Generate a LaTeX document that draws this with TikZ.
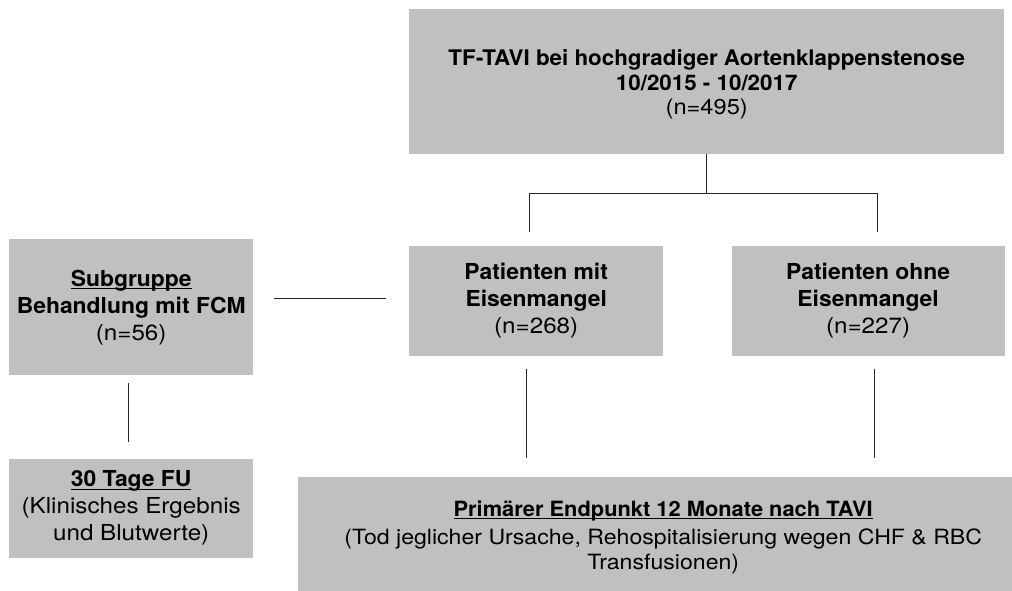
\documentclass[tikz,border=0pt]{standalone}
\usepackage{fontspec}
\setmainfont{TeX Gyre Heros}[FakeStretch=1.1, BoldFeatures={FakeStretch=1.04}]
\usepackage{xcolor}
\usetikzlibrary{positioning,calc}
\definecolor{boxgray}{RGB}{192,192,192}
\newcommand{\hd}[1]{\textbf{#1}}
\newsavebox{\ulinebox}
\newcommand{\ulin}[1]{\sbox{\ulinebox}{#1}\rlap{\usebox{\ulinebox}}\rule[-3pt]{\wd\ulinebox}{1.1pt}}

\begin{document}
\begin{tikzpicture}[
  x=1pt, y=1pt,
  font=\fontsize{22}{27}\selectfont,
  box/.style={fill=boxgray, draw=none, inner sep=0pt, align=center},
  link/.style={draw=black!85, line width=1pt}
]
\useasboundingbox (0,0) rectangle (1012,-590);
\clip (0,0) rectangle (1012,-590);

% ===== study cohort =====
\node[box, minimum width=595pt, minimum height=145pt, anchor=north west,
      font=\fontsize{21.5}{24.5}\selectfont] (tavi) at (409,-9)
  {\rule{0pt}{22pt}\hd{TF-TAVI bei hochgradiger Aortenklappenstenose}\\\hd{10/2015 - 10/2017}\\(n=495)};

% ===== groups =====
\node[box, minimum width=254pt, minimum height=110pt,
      below=91pt of tavi.south west, anchor=north west] (pmit)
  {\hd{Patienten mit}\\\hd{Eisenmangel}\\(n=268)};
\node[box, minimum width=273pt, minimum height=110pt,
      right=68pt of pmit.north east, anchor=north west] (pohne)
  {\hd{Patienten ohne}\\\hd{Eisenmangel}\\(n=227)};

\node[box, minimum width=244pt, minimum height=136pt, anchor=north west] (subgr) at (9,-239)
  {\hd{\ulin{Subgruppe}}\\\hd{Behandlung mit FCM}\\(n=56)};

% ===== follow-up =====
\node[box, minimum width=244pt, minimum height=99pt,
      below=83pt of subgr.south west, anchor=north west] (fu30)
  {\hd{\ulin{30 Tage FU}}\\(Klinisches Ergebnis\\und Blutwerte)};
\node[box, minimum width=730pt, minimum height=120pt, anchor=north west,
      font=\fontsize{21}{24.5}\selectfont] (endp) at (298,-477)
  {\hd{\ulin{Primärer Endpunkt 12 Monate nach TAVI}}\\[4pt](Tod jeglicher Ursache, Rehospitalisierung wegen CHF \& RBC\\Transfusionen)};

% connectors
\coordinate (split) at ([yshift=-39pt]tavi.south);
\draw[link] (tavi.south) -- (split);
\draw[link] ([xshift=-7pt,yshift=13pt]pmit.north) |- (split) -| ([xshift=9.5pt,yshift=13pt]pohne.north);
\draw[link, shorten <=21pt, shorten >=23pt] ([yshift=2pt]subgr.east |- pmit.west) -- ([yshift=2pt]pmit.west);
\draw[link, shorten <=8pt, shorten >=16pt] ([xshift=-3pt]subgr.south) -- ([xshift=-3pt]fu30.north);
\draw[link, shorten <=13pt, shorten >=19pt] ([xshift=-10pt]pmit.south) -- ([xshift=-10pt]pmit.south |- endp.north);
\draw[link, shorten <=13pt, shorten >=19pt] ([xshift=6.5pt]pohne.south) -- ([xshift=6.5pt]pohne.south |- endp.north);

\end{tikzpicture}
\end{document}
